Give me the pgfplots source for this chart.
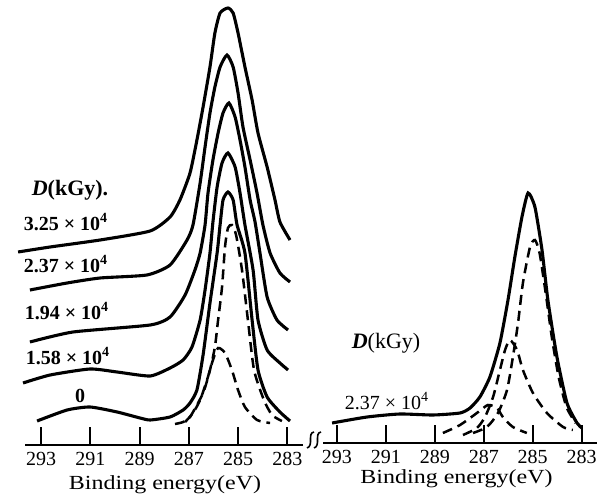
\documentclass[border=0pt]{standalone}
\usepackage{fontspec}
\setmainfont{Liberation Serif}
\usepackage{pgfplots}
\pgfplotsset{compat=1.18}

\pgfplotsset{
  xps/.style={
    y=0.5pt, x dir=reverse,
    ymin=0, ymax=445,
    axis x line=bottom, axis y line=none,
    x axis line style={-, line width=1pt},
    xtick={293,291,289,287,285,283},
    tick align=inside, major tick length=9pt,
    tick style={line width=1pt, black},
    xticklabel style={font=\fontsize{10}{12}\selectfont},
    /pgf/number format/assume math mode=true,
    clip=false,
  },
  spec/.style={black, line width=1.55pt, smooth, tension=0.35},
  comp/.style={black, line width=1.25pt, smooth, tension=0.4, dash pattern=on 5pt off 3pt},
}

\begin{document}
\begin{tikzpicture}[x=1pt,y=1pt]
\useasboundingbox (0,0) rectangle (298.5,250.5);

% left panel: spectra at several doses, stacked
\begin{axis}[xps, x=12.315pt, xmin=282.36, xmax=293.65,
  at={(12.5pt,28pt)}, anchor=south west]
% 3.25e4
\addplot[spec] coordinates {(293.93,193) (292.63,198) (290.60,205) (288.57,214)
  (287.76,228) (287.36,245) (286.95,272) (286.67,305) (286.42,338) (286.14,378)
  (285.94,412) (285.73,432) (285.41,437) (285.20,432) (285.00,412) (284.72,378)
  (284.43,345) (284.19,312) (283.82,278) (283.50,245) (283.30,223) (282.89,205)};
% 2.37e4
\addplot[spec] coordinates {(293.45,155) (291.94,162) (290.60,167) (288.70,170)
  (287.76,180) (287.07,205) (286.83,220) (286.54,262) (286.34,298) (286.14,332)
  (285.94,358) (285.73,378) (285.45,390) (285.20,378) (285.00,352) (284.80,318)
  (284.51,285) (284.23,252) (283.99,220) (283.70,192) (283.30,172) (282.89,163)};
% 1.94e4
\addplot[spec] coordinates {(293.45,103) (291.70,113) (288.57,120) (287.76,128)
  (287.15,150) (286.75,175) (286.54,192) (286.34,220) (286.22,252) (286.02,285)
  (285.81,312) (285.61,332) (285.37,342) (285.12,328) (284.92,305) (284.72,278)
  (284.51,245) (284.31,223) (284.11,192) (283.82,148) (283.42,125) (282.97,115)};
% 1.58e4
\addplot[spec] coordinates {(293.73,62) (292.63,70) (291.01,76) (289.91,73)
  (288.57,69) (287.76,77) (287.23,85) (286.87,98) (286.54,125) (286.34,155)
  (286.14,192) (286.02,223) (285.85,258) (285.65,282) (285.41,292) (285.12,278)
  (284.92,252) (284.72,220) (284.39,175) (284.19,125) (283.82,95) (283.30,82)
  (282.97,75)};
% 0
\addplot[spec] coordinates {(293.16,24) (291.94,35) (291.01,38) (289.91,33)
  (288.98,27) (288.57,25) (287.76,28) (287.23,35) (286.95,42) (286.67,55)
  (286.42,90) (286.14,142) (285.85,192) (285.73,220) (285.61,245) (285.41,253)
  (285.20,245) (285.04,220) (284.72,192) (284.43,125) (284.19,75) (283.82,48)
  (283.30,33) (282.89,24)};
% fitted components of the 0 spectrum
\addplot[comp] coordinates {(287.56,21) (287.23,23) (286.95,28) (286.42,52)
  (286.14,75) (285.94,98) (285.81,125) (285.65,158) (285.53,198) (285.41,217)
  (285.25,220) (285.08,210) (284.84,175) (284.60,125) (284.35,75) (283.95,45)
  (283.62,30) (283.22,24)};
\addplot[comp] coordinates {(287.15,23) (286.83,32) (286.54,45) (286.26,65)
  (286.02,85) (285.81,97) (285.53,92) (285.25,75) (285.00,55) (284.72,38)
  (284.23,25) (283.70,22)};
\end{axis}

% right panel: one spectrum with its components
\begin{axis}[xps, x=12.235pt, xmin=282.37, xmax=293.57,
  at={(161.5pt,29pt)}, anchor=south west]
\addplot[spec] coordinates {(293.20,20) (291.77,26) (290.43,29) (289.08,28)
  (287.97,30) (287.56,35) (287.16,46) (286.75,66) (286.34,100) (286.01,143)
  (285.73,186) (285.44,226) (285.19,250) (284.91,236) (284.62,193) (284.38,143)
  (284.01,86) (283.60,40) (283.19,20) (282.99,15)};
\addplot[comp] coordinates {(287.44,10) (286.87,16) (286.42,30) (286.05,53)
  (285.81,86) (285.60,120) (285.40,160) (285.11,196) (284.91,203) (284.72,190)
  (284.47,150) (284.22,106) (283.94,66) (283.62,36) (283.25,20)};
\addplot[comp] coordinates {(287.85,8) (287.28,15) (286.95,26) (286.62,46)
  (286.34,73) (286.13,93) (285.93,103) (285.64,93) (285.40,73) (284.99,50)
  (284.42,30) (283.76,16) (283.36,13)};
\addplot[comp] coordinates {(288.67,10) (287.97,18) (287.28,30) (286.83,38)
  (286.46,35) (286.22,26) (285.81,16) (285.24,10)};
\end{axis}

% axis break
\draw[line width=0.8pt] (153.5,26.5) .. controls (157,27.5) and (153.5,34) .. (157,34.5);
\draw[line width=0.8pt] (157,26.5) .. controls (160.5,27.5) and (157,34) .. (160.5,34.5);

% labels
\node[anchor=base] at (82.5,5.5) {\fontsize{10}{12}\selectfont\scalebox{1.2}[1]{Binding energy(eV)}};
\node[anchor=base] at (228.25,9) {\fontsize{10}{12}\selectfont\scalebox{1.2}[1]{Binding energy(eV)}};

\begin{scope}[font=\fontsize{10}{12}\selectfont\bfseries]
\node at (35,155.5) {\fontsize{11}{13}\selectfont\textit{D}(kGy).};
\node at (33,139.5) {3.25 × 10\textsuperscript{4}};
\node at (33,118.5) {2.37 × 10\textsuperscript{4}};
\node at (33.5,95) {1.94 × 10\textsuperscript{4}};
\node at (34,72.5) {1.58 × 10\textsuperscript{4}};
\node at (40,52.5) {0};
\end{scope}
\node[font=\fontsize{11}{13}\selectfont] at (193,79) {\textbf{\textit{D}}(kGy)};
\node[font=\fontsize{10}{12}\selectfont] at (193.5,50) {2.37 × 10\textsuperscript{4}};
\end{tikzpicture}
\end{document}
